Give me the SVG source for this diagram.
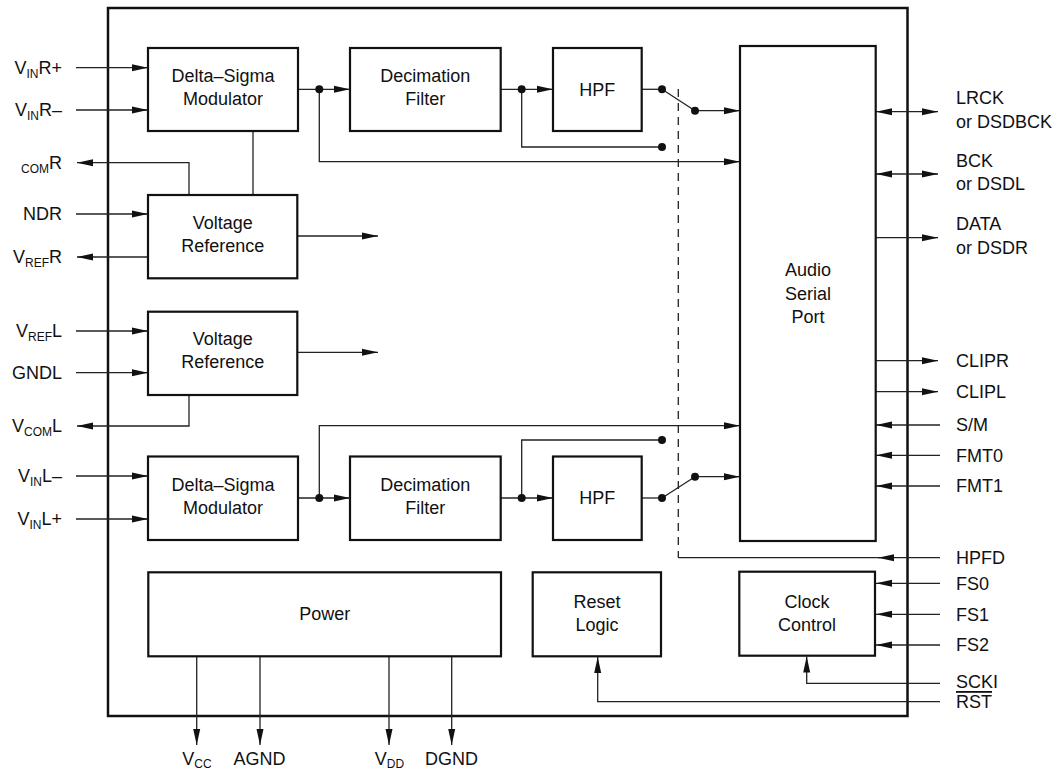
<svg xmlns="http://www.w3.org/2000/svg" width="1057" height="771" viewBox="0 0 1057 771">
<style>
text{font-family:"Liberation Sans",Arial,sans-serif;font-size:18px;fill:#111}
.c{text-anchor:middle}
.e{text-anchor:end}
.s{font-size:12px}
.box{fill:#fff;stroke:#111;stroke-width:2.2}
.outer{fill:none;stroke:#111;stroke-width:2.5}
.ln{fill:none;stroke:#222;stroke-width:1.3}
.ar{fill:none;stroke:#222;stroke-width:1.3;marker-end:url(#ah)}
.ar2{fill:none;stroke:#222;stroke-width:1.3;marker-end:url(#ah);marker-start:url(#ahs)}
.dash{fill:none;stroke:#222;stroke-width:1.3;stroke-dasharray:8,6}
.dot{fill:#111}
</style>
<defs>
<marker id="ah" markerUnits="userSpaceOnUse" markerWidth="16" markerHeight="8" refX="16" refY="4" orient="auto"><path d="M0,0.5 L16,4 L0,7.5 z" fill="#111"/></marker>
<marker id="ahs" markerUnits="userSpaceOnUse" markerWidth="16" markerHeight="8" refX="16" refY="4" orient="auto-start-reverse"><path d="M0,0.5 L16,4 L0,7.5 z" fill="#111"/></marker>
</defs>
<rect id="chip" class="outer" x="108" y="8" width="799.5" height="708"/>

<g id="connectors">
<!-- top channel -->
<line class="ar" x1="298" y1="89.3" x2="350" y2="89.3"/>
<path class="ar" d="M319.3,89.3 V161.7 H740"/>
<line class="ar" x1="500.7" y1="89.3" x2="553" y2="89.3"/>
<path class="ln" d="M521.7,89.3 V147 H662"/>
<line class="ln" x1="641.7" y1="89.3" x2="662" y2="89.3"/>
<line class="ln" x1="662" y1="89.3" x2="695" y2="110.7"/>
<line class="ar" x1="695" y1="110.7" x2="740" y2="110.7"/>
<!-- bottom channel -->
<line class="ar" x1="298" y1="498" x2="350" y2="498"/>
<path class="ar" d="M319.3,498 V425.7 H740"/>
<line class="ar" x1="500.7" y1="498" x2="553" y2="498"/>
<path class="ln" d="M521.7,498 V440 H662"/>
<line class="ln" x1="641.7" y1="498" x2="662" y2="498"/>
<line class="ln" x1="662" y1="498" x2="695" y2="476.7"/>
<line class="ar" x1="695" y1="476.7" x2="740" y2="476.7"/>
<!-- HPFD -->
<line class="dash" x1="678.3" y1="89" x2="678.3" y2="557.7"/>
<line class="ln" x1="678.3" y1="557.7" x2="880" y2="557.7"/>
<line class="ar" x1="940" y1="557.7" x2="878" y2="557.7"/>
<!-- left side -->
<line class="ar" x1="76" y1="67.7" x2="148" y2="67.7"/>
<line class="ar" x1="76" y1="110" x2="148" y2="110"/>
<path class="ar" d="M189,195 V162.7 H77"/>
<line class="ar" x1="76" y1="214" x2="148" y2="214"/>
<line class="ar" x1="148" y1="257" x2="77" y2="257"/>
<line class="ln" x1="253" y1="131" x2="253" y2="195"/>
<line class="ar" x1="297" y1="236" x2="378" y2="236"/>
<line class="ar" x1="76" y1="331" x2="148" y2="331"/>
<line class="ar" x1="76" y1="372.7" x2="148" y2="372.7"/>
<line class="ar" x1="297" y1="352.3" x2="378" y2="352.3"/>
<path class="ar" d="M189,395 V426 H77"/>
<line class="ar" x1="76" y1="476" x2="148" y2="476"/>
<line class="ar" x1="76" y1="519" x2="148" y2="519"/>
<!-- right side -->
<line class="ar2" x1="876" y1="111.7" x2="938" y2="111.7"/>
<line class="ar2" x1="876" y1="174" x2="938" y2="174"/>
<line class="ar" x1="876" y1="237.7" x2="938" y2="237.7"/>
<line class="ar" x1="876" y1="360.7" x2="938" y2="360.7"/>
<line class="ar" x1="876" y1="391.7" x2="938" y2="391.7"/>
<line class="ar" x1="940" y1="425" x2="876" y2="425"/>
<line class="ar" x1="940" y1="455.3" x2="876" y2="455.3"/>
<line class="ar" x1="940" y1="486" x2="876" y2="486"/>
<line class="ar" x1="940" y1="583.3" x2="876" y2="583.3"/>
<line class="ar" x1="940" y1="614.3" x2="876" y2="614.3"/>
<line class="ar" x1="940" y1="645" x2="876" y2="645"/>
<path class="ar" d="M940,683.3 H806.7 V656.5"/>
<path class="ar" d="M940,701.7 H597.7 V657"/>
<!-- bottom -->
<line class="ar" x1="196.7" y1="656" x2="196.7" y2="745"/>
<line class="ar" x1="260" y1="656" x2="260" y2="745"/>
<line class="ar" x1="389" y1="656" x2="389" y2="745"/>
<line class="ar" x1="451.7" y1="656" x2="451.7" y2="745"/>
<!-- dots -->
<circle class="dot" cx="319.3" cy="89.3" r="4"/>
<circle class="dot" cx="521.7" cy="89.3" r="4"/>
<circle class="dot" cx="662" cy="89.3" r="4"/>
<circle class="dot" cx="695" cy="110.7" r="4"/>
<circle class="dot" cx="662" cy="147" r="4"/>
<circle class="dot" cx="319.3" cy="498" r="4"/>
<circle class="dot" cx="521.7" cy="498" r="4"/>
<circle class="dot" cx="662" cy="498" r="4"/>
<circle class="dot" cx="695" cy="476.7" r="4"/>
<circle class="dot" cx="662" cy="440" r="4"/>
</g>

<g id="dsm-r"><rect class="box" x="148" y="48" width="150" height="83"/><text class="c" x="223" y="82">Delta–Sigma</text><text class="c" x="223" y="105">Modulator</text></g>
<g id="dec-r"><rect class="box" x="350" y="48" width="150.7" height="83"/><text class="c" x="425.3" y="82">Decimation</text><text class="c" x="425.3" y="105">Filter</text></g>
<g id="hpf-r"><rect class="box" x="553" y="48" width="88.7" height="83"/><text class="c" x="597.3" y="95.5">HPF</text></g>
<g id="asp"><rect class="box" x="740" y="46" width="135.7" height="495"/><text class="c" x="808" y="276">Audio</text><text class="c" x="808" y="299.5">Serial</text><text class="c" x="808" y="323">Port</text></g>
<g id="vref-r"><rect class="box" x="148" y="195" width="149.3" height="83.3"/><text class="c" x="222.7" y="228.5">Voltage</text><text class="c" x="222.7" y="251.7">Reference</text></g>
<g id="vref-l"><rect class="box" x="148" y="311.7" width="149.3" height="83.3"/><text class="c" x="222.7" y="345">Voltage</text><text class="c" x="222.7" y="368.3">Reference</text></g>
<g id="dsm-l"><rect class="box" x="148" y="456.5" width="150" height="83.5"/><text class="c" x="223" y="490.5">Delta–Sigma</text><text class="c" x="223" y="513.5">Modulator</text></g>
<g id="dec-l"><rect class="box" x="350" y="456.5" width="150.7" height="83.5"/><text class="c" x="425.3" y="490.5">Decimation</text><text class="c" x="425.3" y="513.5">Filter</text></g>
<g id="hpf-l"><rect class="box" x="553" y="456.5" width="88.7" height="83.5"/><text class="c" x="597.3" y="504">HPF</text></g>
<g id="power"><rect class="box" x="148.3" y="572.3" width="352.7" height="84"/><text class="c" x="324.7" y="620">Power</text></g>
<g id="reset"><rect class="box" x="532.7" y="572.3" width="128.3" height="84"/><text class="c" x="597" y="607.7">Reset</text><text class="c" x="597" y="631.2">Logic</text></g>
<g id="clock"><rect class="box" x="739.3" y="571.7" width="135.7" height="84"/><text class="c" x="807" y="607.7">Clock</text><text class="c" x="807" y="631">Control</text></g>

<g id="labels-left">
<text class="e" x="62" y="73.7">V<tspan class="s" dy="4">IN</tspan><tspan dy="-4">R+</tspan></text>
<text class="e" x="62" y="116">V<tspan class="s" dy="4">IN</tspan><tspan dy="-4">R–</tspan></text>
<text class="e" x="62" y="168.7"><tspan class="s" dy="4">COM</tspan><tspan dy="-4">R</tspan></text>
<text class="e" x="62" y="220">NDR</text>
<text class="e" x="62" y="263">V<tspan class="s" dy="4">REF</tspan><tspan dy="-4">R</tspan></text>
<text class="e" x="62" y="337">V<tspan class="s" dy="4">REF</tspan><tspan dy="-4">L</tspan></text>
<text class="e" x="62" y="378.7">GNDL</text>
<text class="e" x="62" y="432">V<tspan class="s" dy="4">COM</tspan><tspan dy="-4">L</tspan></text>
<text class="e" x="62" y="482">V<tspan class="s" dy="4">IN</tspan><tspan dy="-4">L–</tspan></text>
<text class="e" x="62" y="525">V<tspan class="s" dy="4">IN</tspan><tspan dy="-4">L+</tspan></text>
</g>
<g id="labels-right">
<text x="956" y="104">LRCK</text><text x="956" y="128">or DSDBCK</text>
<text x="956" y="166.7">BCK</text><text x="956" y="190">or DSDL</text>
<text x="956" y="230">DATA</text><text x="956" y="253.5">or DSDR</text>
<text x="956" y="367">CLIPR</text>
<text x="956" y="398">CLIPL</text>
<text x="956" y="431">S/M</text>
<text x="956" y="461.5">FMT0</text>
<text x="956" y="492">FMT1</text>
<text x="956" y="564">HPFD</text>
<text x="956" y="589.5">FS0</text>
<text x="956" y="620.5">FS1</text>
<text x="956" y="651">FS2</text>
<text x="956" y="688">SCKI</text>
<text x="956" y="708" text-decoration="overline">RST</text>
</g>
<g id="labels-bottom">
<text class="c" x="197" y="765">V<tspan class="s" dy="3">CC</tspan></text>
<text class="c" x="259.5" y="765">AGND</text>
<text class="c" x="389.5" y="765">V<tspan class="s" dy="3">DD</tspan></text>
<text class="c" x="451.5" y="765">DGND</text>
</g>
</svg>
